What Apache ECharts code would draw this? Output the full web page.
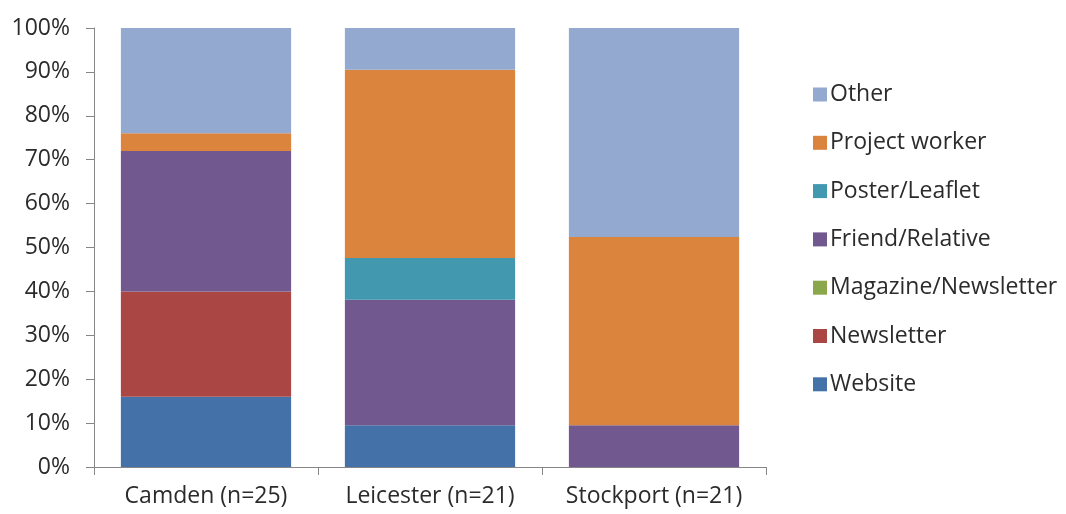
<!DOCTYPE html>
<html>
<head>
<meta charset="utf-8">
<script src="https://cdn.jsdelivr.net/npm/echarts@6/dist/echarts.min.js"></script>
<style>
  html, body { margin: 0; padding: 0; background: #fff; }
  #chart { width: 1066px; height: 514px; }
</style>
</head>
<body>
<div id="chart"></div>
<script>
// Sites surveyed
const categories = ['Camden (n=25)', 'Leicester (n=21)', 'Stockport (n=21)'];

// Share of respondents (%) by how they heard about the project
const website         = [16, 9.5, 0];
const newsletter      = [24, 0, 0];
const magazine        = [0, 0, 0];
const friendRelative  = [32, 28.6, 9.5];
const posterLeaflet   = [0, 9.5, 0];
const projectWorker   = [4, 42.9, 42.9];
const other           = [24, 9.5, 47.6];

const yTicks = { min: 0, max: 100, step: 10 };

const seriesDefs = [
  { name: 'Website', data: website, color: '#4472A8' },
  { name: 'Newsletter', data: newsletter, color: '#AA4744' },
  { name: 'Magazine/Newsletter', data: magazine, color: '#8AA84B' },
  { name: 'Friend/Relative', data: friendRelative, color: '#71588F' },
  { name: 'Poster/Leaflet', data: posterLeaflet, color: '#4198AF' },
  { name: 'Project worker', data: projectWorker, color: '#DB843D' },
  { name: 'Other', data: other, color: '#93A9D0' }
];

const font = '"Open Sans", sans-serif';
const fontSize = 23;
const axisColor = '#868686';
const textColor = '#2b2b2b';

const chart = echarts.init(document.getElementById('chart'), null, { renderer: 'canvas' });
chart.setOption({
  animation: false,
  textStyle: { fontFamily: font },
  grid: { left: 94, right: 300, top: 28, bottom: 47, containLabel: false },
  legend: {
    orient: 'vertical',
    left: 808,
    top: 78,
    itemWidth: 14,
    itemHeight: 14,
    itemGap: 25.3,
    icon: 'rect',
    data: seriesDefs.map(s => s.name).reverse(),
    textStyle: { fontFamily: font, fontSize: fontSize, color: textColor, padding: [0, 0, 0, -2] }
  },
  xAxis: {
    type: 'category',
    data: categories,
    axisLine: { lineStyle: { color: axisColor, width: 1 } },
    axisTick: { show: true, alignWithLabel: false, length: 8, lineStyle: { color: axisColor } },
    axisLabel: { interval: 0, fontFamily: font, fontSize: fontSize, color: textColor, margin: 18 }
  },
  yAxis: {
    type: 'value',
    min: yTicks.min,
    max: yTicks.max,
    interval: yTicks.step,
    axisLine: { show: true, lineStyle: { color: axisColor, width: 1 } },
    axisTick: { show: true, length: 8, lineStyle: { color: axisColor } },
    splitLine: { show: false },
    axisLabel: { fontFamily: font, fontSize: fontSize, color: textColor, margin: 24, formatter: '{value}%' }
  },
  series: seriesDefs.map(s => ({
    name: s.name,
    type: 'bar',
    stack: 'total',
    data: s.data,
    barCategoryGap: '24%',
    itemStyle: { color: s.color },
    emphasis: { disabled: true }
  }))
});
</script>
</body>
</html>
